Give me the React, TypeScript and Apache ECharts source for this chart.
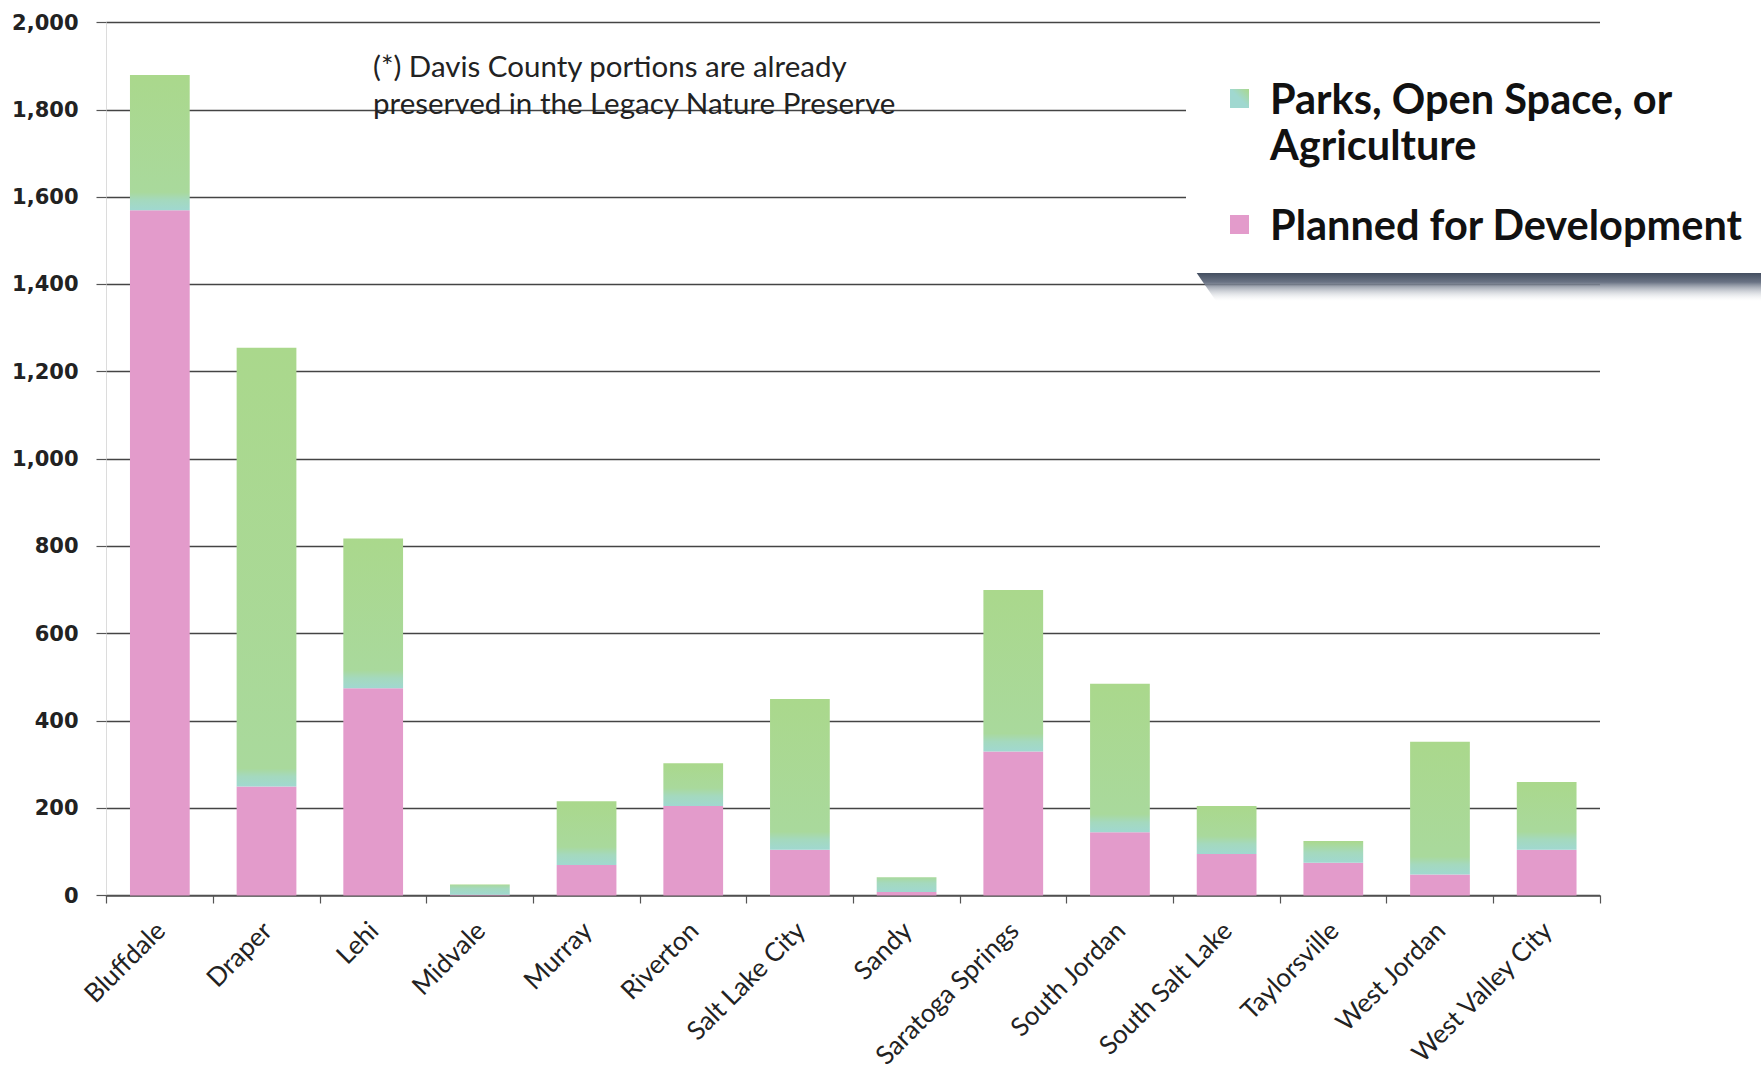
import React, { useEffect, useRef } from "react";
import * as echarts from "echarts";

const categories = [
  "Bluffdale",
  "Draper",
  "Lehi",
  "Midvale",
  "Murray",
  "Riverton",
  "Salt Lake City",
  "Sandy",
  "Saratoga Springs",
  "South Jordan",
  "South Salt Lake",
  "Taylorsville",
  "West Jordan",
  "West Valley City",
];

const plannedForDevelopment = [1570, 250, 475, 2, 70, 205, 105, 8, 330, 145, 95, 75, 48, 105];
const parksOpenSpaceAgriculture = [310, 1005, 343, 23, 146, 98, 345, 34, 370, 340, 110, 50, 304, 155];

const seriesNames = ["Planned for Development", "Parks, Open Space, or Agriculture"];
const legendLabels = ["Parks, Open Space, or\nAgriculture", "Planned for Development"];
const noteText = "(*) Davis County portions are already\npreserved in the Legacy Nature Preserve";

const yMin = 0;
const yMax = 2000;
const yInterval = 200;

const PINK = "#E39BCB";
const GREEN = "#AAD88C";
const TEAL = "#A0D8D0";

export default function App() {
  const ref = useRef<HTMLDivElement>(null);

  useEffect(() => {
    if (!ref.current) return;
    const chart = echarts.init(ref.current, null, { renderer: "svg" });

    const plotHeight = 1080 - 22.5 - 184.5;
    const pxPerUnit = plotHeight / (yMax - yMin);
    const greenFill = (v: number) => {
      const h = Math.max(v * pxPerUnit, 1);
      const band = Math.min(10 / h, 0.6);
      return new echarts.graphic.LinearGradient(0, 0, 0, 1, [
        { offset: 0, color: GREEN },
        { offset: Math.max(1 - band * 1.8, 0), color: "#A9D99C" },
        { offset: 1 - band, color: "#A4D9BE" },
        { offset: 1, color: TEAL },
      ]);
    };

    chart.setOption({
      animation: false,
      backgroundColor: "#ffffff",
      grid: { left: 106.5, right: 161, top: 22.5, bottom: 184.5, containLabel: false },
      xAxis: {
        type: "category",
        data: categories,
        axisLine: { show: true, lineStyle: { color: "#555", width: 1.5 } },
        axisTick: { show: true, alignWithLabel: false, length: 8, lineStyle: { color: "#555", width: 1.2 } },
        axisLabel: {
          rotate: 45,
          margin: 30,
          interval: 0,
          color: "#222",
          fontFamily: "Lato",
          fontSize: 26,
        },
        splitLine: { show: false },
      },
      yAxis: {
        type: "value",
        min: yMin,
        max: yMax,
        interval: yInterval,
        axisLine: { show: true, lineStyle: { color: "#dcdcdc", width: 1 } },
        axisTick: { show: true, length: 10, lineStyle: { color: "#555", width: 1.2 } },
        axisLabel: {
          margin: 28,
          color: "#222",
          fontFamily: "DejaVu Sans",
          fontWeight: "bold",
          fontSize: 21,
          formatter: (v: number) => v.toLocaleString("en-US"),
        },
        splitLine: { show: true, lineStyle: { color: "#444", width: 1.3 } },
      },
      series: [
        {
          name: seriesNames[0],
          type: "bar",
          stack: "total",
          barWidth: "56%",
          data: plannedForDevelopment,
          itemStyle: { color: PINK },
        },
        {
          name: seriesNames[1],
          type: "bar",
          stack: "total",
          barWidth: "56%",
          data: parksOpenSpaceAgriculture.map((v) => ({ value: v, itemStyle: { color: greenFill(v) } })),
          itemStyle: { color: GREEN },
        },
      ],
      graphic: [
        {
          type: "text",
          left: 373,
          top: 47,
          z: 10,
          style: {
            text: noteText,
            fontFamily: "Lato",
            fontSize: 29.5,
            lineHeight: 37,
            fill: "#222",
          },
        },
        {
          type: "polygon",
          z: 10,
          shape: {
            points: [
              [1196, 272],
              [1761, 272],
              [1761, 301],
              [1216, 301],
            ],
          },
          style: {
            fill: new echarts.graphic.LinearGradient(0, 0, 0, 1, [
              { offset: 0, color: "#3f4a5c" },
              { offset: 0.35, color: "#6a7384" },
              { offset: 1, color: "rgba(220,224,230,0)" },
            ]),
          },
        },
        {
          type: "rect",
          z: 11,
          shape: { x: 1186, y: 40, width: 575, height: 233 },
          style: { fill: "#ffffff" },
        },
        {
          type: "rect",
          z: 12,
          shape: { x: 1230, y: 89, width: 19, height: 19 },
          style: {
            fill: new echarts.graphic.LinearGradient(1, 0, 0, 1, [
              { offset: 0, color: GREEN },
              { offset: 0.5, color: TEAL },
              { offset: 1, color: TEAL },
            ]),
          },
        },
        {
          type: "text",
          z: 12,
          left: 1270,
          top: 75,
          style: {
            text: legendLabels[0],
            fontFamily: "Lato",
            fontWeight: "bold",
            fontSize: 41.5,
            lineHeight: 46,
            fill: "#111",
          },
        },
        {
          type: "rect",
          z: 12,
          shape: { x: 1230, y: 215, width: 19, height: 19 },
          style: { fill: PINK },
        },
        {
          type: "text",
          z: 12,
          left: 1270,
          top: 201,
          style: {
            text: legendLabels[1],
            fontFamily: "Lato",
            fontWeight: "bold",
            fontSize: 41.5,
            lineHeight: 46,
            fill: "#111",
          },
        },
      ],
    });

    return () => chart.dispose();
  }, []);

  return (
    <div
      ref={ref}
      style={{ position: "fixed", left: 0, top: 0, width: 1761, height: 1080, background: "#fff" }}
    />
  );
}
